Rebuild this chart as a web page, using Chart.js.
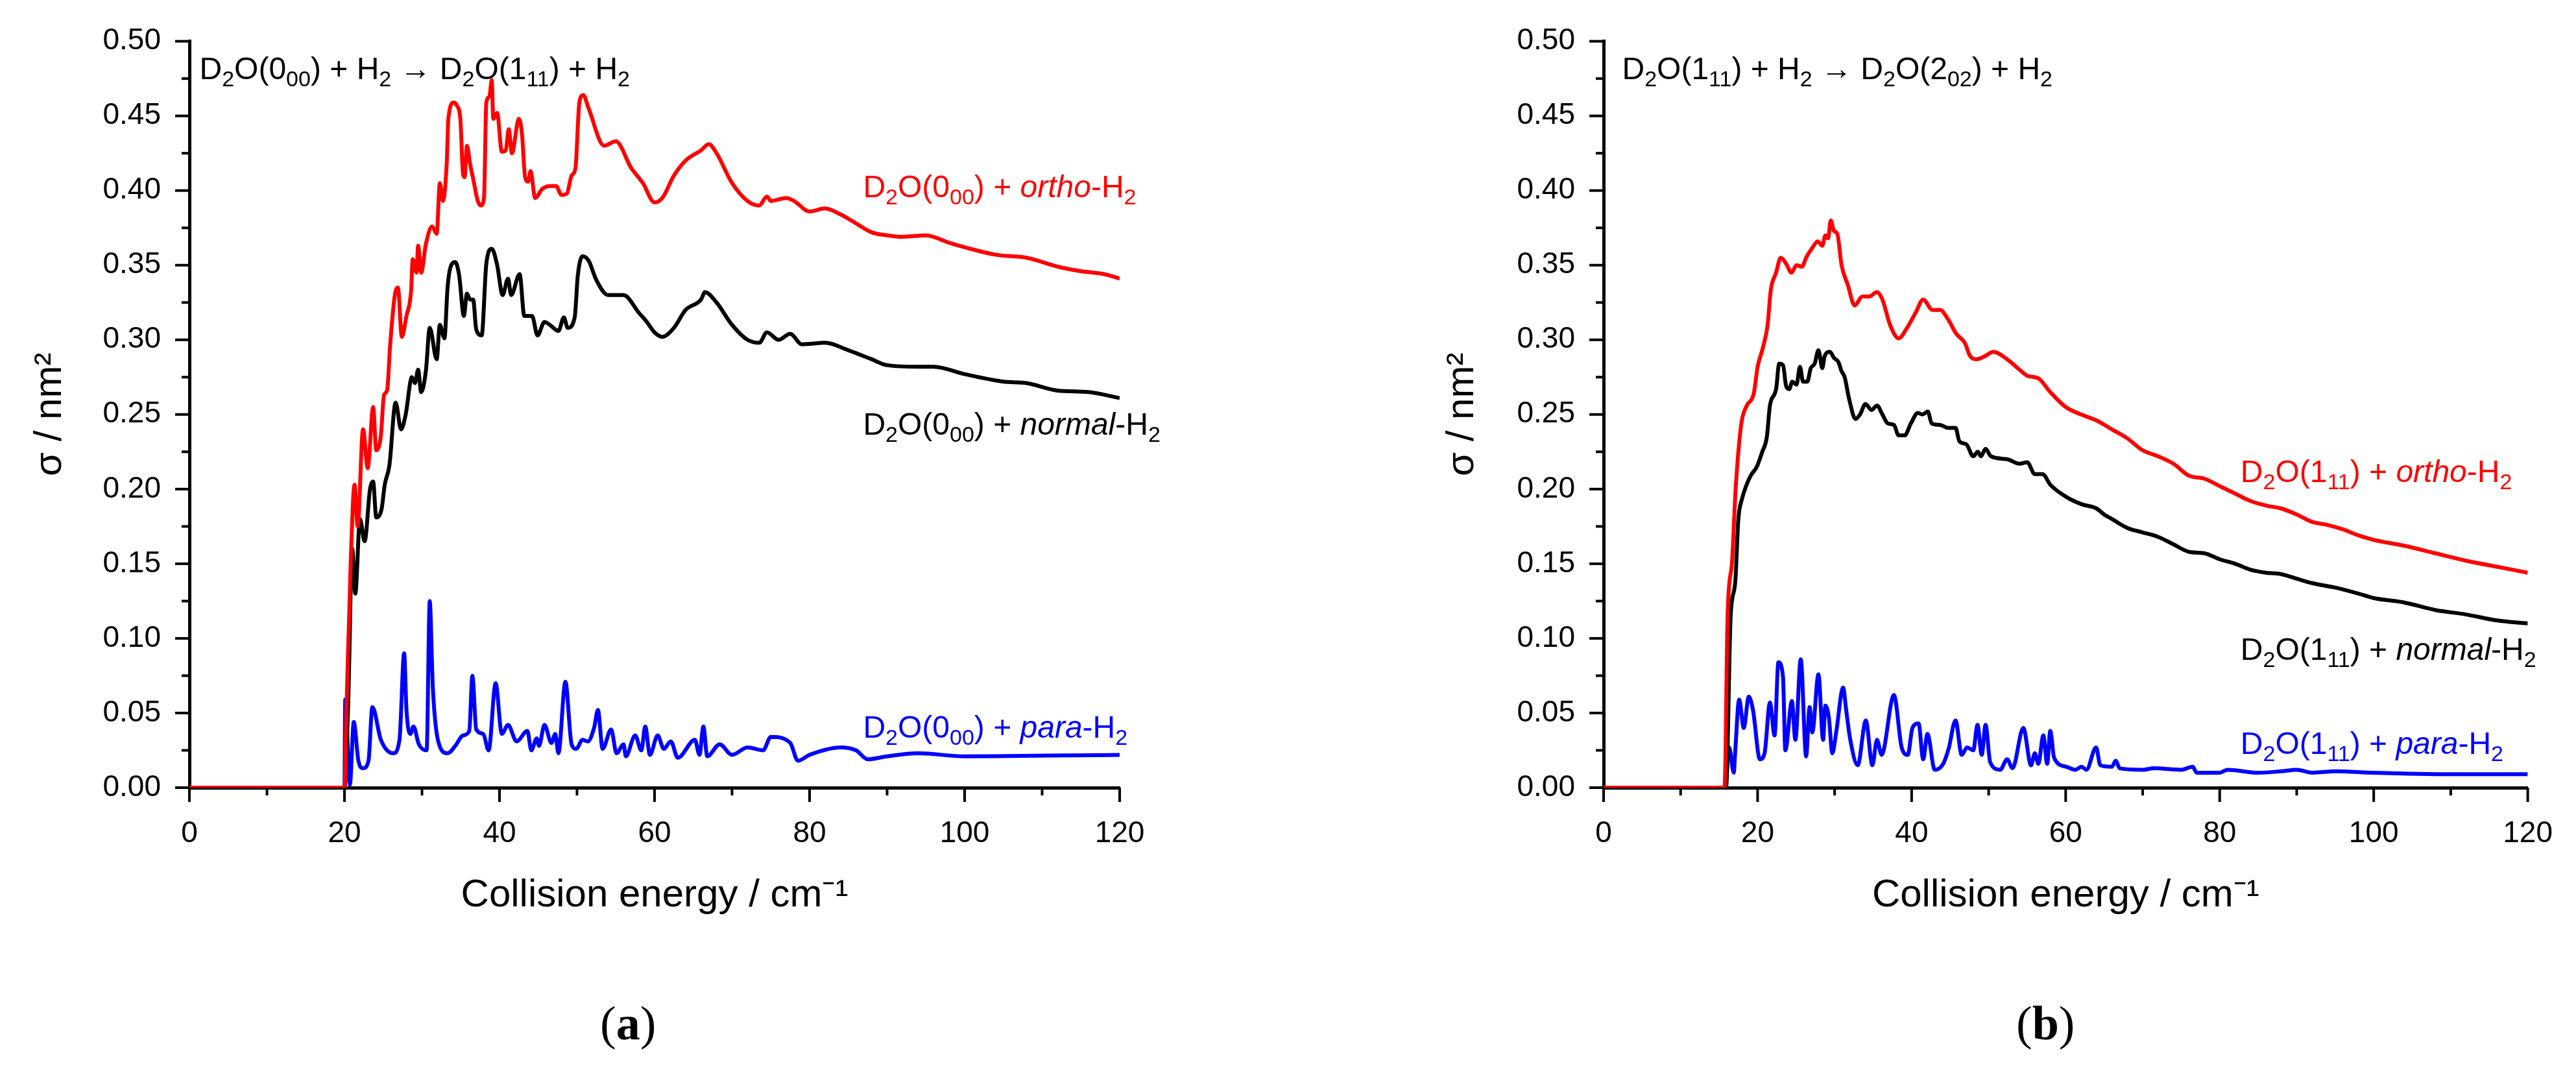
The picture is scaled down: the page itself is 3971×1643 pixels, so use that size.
<!DOCTYPE html>
<html>
<head>
<meta charset="utf-8">
<script src="https://cdn.jsdelivr.net/npm/chart.js@4.4.1/dist/chart.umd.min.js"></script>
<style>
  html, body { margin: 0; padding: 0; background: #fff; }
  body { width: 3971px; height: 1643px; position: relative; overflow: hidden; }
  .panel { position: absolute; top: 0; height: 1643px; }
  #wrapA { left: 0; width: 1990px; }
  #wrapB { left: 1990px; width: 1981px; }
  .tag { position: absolute; top: 1535px; font-family: "Liberation Serif", serif; font-size: 74px; }
  .tag b { font-weight: bold; }
</style>
</head>
<body>
<div class="panel" id="wrapA"><canvas id="chartA"></canvas></div>
<div class="panel" id="wrapB"><canvas id="chartB"></canvas></div>
<div class="tag" style="left:925px">(<b>a</b>)</div>
<div class="tag" style="left:3108px">(<b>b</b>)</div>
<script>
// ===== DATA: panel (a) D2O(000) -> D2O(111) =====
const aOrthoE = [0,20,20.3,20.8,21.3,21.7,22.4,23.0,23.7,24.1,
  24.7,25.1,25.5,25.9,26.5,26.9,27.4,28.0,28.6,28.8,
  29.3,29.5,29.9,30.5,31.3,31.9,32.3,32.7,33.2,33.4,
  34.1,34.5,34.95,35.3,35.5,35.8,36.2,36.6,37.2,37.6,
  38.0,38.3,38.7,39.0,39.2,39.7,40.3,40.8,41.2,41.6,
  42.5,42.9,43.3,43.7,44.0,44.6,45.5,46.6,47.3,48.0,
  48.7,49.3,49.8,50.3,50.8,51.5,53.5,55,57,58.5,
  60,61,62.5,64,66,67,68,70,72,73.5,
  74.5,75,77,78,80,82,84,86,88,90,
  92,95,98,100,104,108,112,115,118,120];
const aOrthoS = [0,0,0.06,0.15,0.203,0.175,0.240,0.214,0.255,0.226,
  0.236,0.263,0.266,0.297,0.330,0.335,0.302,0.316,0.333,0.354,
  0.345,0.363,0.345,0.364,0.376,0.371,0.405,0.393,0.419,0.448,
  0.459,0.457,0.448,0.411,0.409,0.430,0.418,0.408,0.393,0.390,
  0.395,0.459,0.463,0.474,0.448,0.452,0.426,0.427,0.441,0.425,
  0.448,0.438,0.409,0.406,0.413,0.395,0.401,0.403,0.403,0.397,
  0.398,0.410,0.415,0.459,0.464,0.455,0.430,0.433,0.415,0.405,
  0.392,0.395,0.41,0.42,0.427,0.431,0.425,0.405,0.393,0.39,
  0.396,0.393,0.395,0.393,0.386,0.388,0.384,0.378,0.372,0.370,
  0.369,0.370,0.365,0.362,0.357,0.355,0.349,0.346,0.344,0.341];

const aNormalE = [0,20,20.5,21.0,21.4,22.0,22.6,23.3,23.7,24.1,
  24.8,25.2,25.8,26.6,27.3,27.9,28.7,29.1,29.5,29.9,
  30.5,31.0,31.9,32.3,32.9,33.3,33.7,34.3,34.8,35.4,
  35.8,36.2,36.6,37.0,37.7,38.3,39.0,39.7,40.4,41.1,
  41.5,42.6,43.2,44.2,44.9,45.8,46.5,47.6,48.3,48.8,
  49.7,50.1,50.7,51.5,52.5,54,56,58,59,60,
  61,62.5,64,66,66.5,68,70,72,73.5,74.5,
  76,77.5,79,82,85,88,90,94,96,100,
  105,108,112,116,120];
const aNormalS = [0,0,0.06,0.16,0.13,0.18,0.165,0.200,0.205,0.181,
  0.187,0.203,0.216,0.258,0.240,0.250,0.275,0.271,0.280,0.265,
  0.279,0.308,0.287,0.310,0.301,0.335,0.349,0.352,0.343,0.316,
  0.331,0.327,0.327,0.307,0.303,0.351,0.361,0.350,0.330,0.341,
  0.330,0.344,0.316,0.316,0.303,0.312,0.310,0.306,0.315,0.308,
  0.315,0.343,0.356,0.353,0.34,0.33,0.33,0.318,0.312,0.305,
  0.302,0.308,0.32,0.327,0.332,0.325,0.31,0.30,0.298,0.305,
  0.300,0.304,0.297,0.298,0.293,0.287,0.283,0.282,0.282,0.277,
  0.272,0.271,0.266,0.265,0.261];

const aParaE = [0,20,20.1,20.7,21.2,21.8,22.4,23.1,23.6,24.7,
  26.3,27.1,27.7,28.0,28.5,28.9,29.6,30.6,31.0,31.4,
  32.1,33.3,34.3,35.3,36.1,36.5,37.0,37.9,38.6,39.5,
  40.3,41.1,42.2,43.6,44.1,44.8,45.1,45.8,46.7,47.2,
  47.6,48.5,49.3,49.9,50.7,51.4,52.2,52.7,53.3,54.4,
  55.1,56.0,56.3,57.5,58.3,58.8,59.4,60.4,61.2,62.1,
  63.0,65.2,65.8,66.3,66.8,68.4,70,72,74,75,
  77.5,78.5,80,84,86,87.5,90,94,100,120];
const aParaS = [0,0,0.059,0.002,0.044,0.018,0.013,0.018,0.054,0.032,
  0.023,0.032,0.090,0.052,0.036,0.041,0.029,0.025,0.125,0.067,
  0.031,0.023,0.028,0.035,0.038,0.075,0.039,0.036,0.025,0.070,
  0.036,0.042,0.031,0.038,0.025,0.033,0.028,0.042,0.030,0.036,
  0.023,0.071,0.029,0.026,0.032,0.031,0.040,0.052,0.026,0.039,
  0.023,0.029,0.021,0.035,0.025,0.041,0.022,0.035,0.026,0.031,
  0.020,0.032,0.022,0.041,0.021,0.029,0.022,0.027,0.025,0.034,
  0.030,0.018,0.022,0.027,0.025,0.019,0.021,0.023,0.021,0.022];

// ===== DATA: panel (b) D2O(111) -> D2O(202) =====
const bOrthoE = [0,15.7,16.1,16.7,17.1,17.5,17.95,18.6,19.5,20.0,
  20.7,21.3,21.7,22.4,23.0,23.7,24.4,25.05,25.75,26.3,
  27.15,27.8,28.4,28.8,29.15,29.5,29.9,30.35,30.9,31.7,
  32.6,33.6,34.5,35.5,36.2,37.2,38.3,39.4,40.5,41.5,
  42.7,43.7,44.7,45.8,46.9,47.6,48.4,49.5,50.6,52.4,
  54,55,56.5,58,60,62,64,66,68,70,
  72,74,76,78,80,82,84,86,88,90,
  92,94,96,98,100,104,108,112,116,120];
const bOrthoS = [0,0,0.115,0.153,0.196,0.225,0.246,0.256,0.264,0.282,
  0.295,0.310,0.333,0.345,0.355,0.351,0.345,0.350,0.349,0.355,
  0.362,0.366,0.363,0.370,0.368,0.380,0.373,0.371,0.350,0.337,
  0.323,0.329,0.329,0.332,0.327,0.310,0.301,0.308,0.318,0.327,
  0.320,0.320,0.314,0.304,0.298,0.289,0.287,0.289,0.292,0.287,
  0.28,0.276,0.274,0.265,0.255,0.25,0.246,0.24,0.234,0.226,
  0.222,0.217,0.209,0.207,0.202,0.197,0.192,0.189,0.187,0.183,
  0.178,0.176,0.173,0.169,0.166,0.162,0.157,0.152,0.148,0.144];

const bNormalE = [0,15.9,16.5,17.1,17.5,17.95,18.5,19.1,19.9,20.6,
  21.2,21.6,22.4,22.8,23.3,23.7,24.1,24.5,25.05,25.5,
  25.9,26.45,26.9,27.4,27.9,28.4,28.7,29.4,29.9,30.5,
  30.9,31.3,31.9,32.7,33.3,34.0,34.8,35.5,36.2,36.9,
  37.7,38.3,39.1,39.9,40.8,41.4,42.1,42.6,43.7,44.7,
  45.7,46.2,47.1,48.0,48.6,49.0,49.6,50.3,52.4,54,
  55,56,57,58,60,62,64,65,66,68,
  70,72,74,76,78,80,82,84,86,88,
  90,92,95,98,100,104,108,112,116,120];
const bNormalS = [0,0,0.115,0.138,0.180,0.193,0.202,0.209,0.215,0.225,
  0.235,0.256,0.267,0.284,0.283,0.269,0.267,0.272,0.270,0.282,
  0.272,0.272,0.281,0.284,0.293,0.281,0.289,0.292,0.288,0.285,
  0.279,0.275,0.260,0.247,0.250,0.257,0.253,0.256,0.250,0.244,
  0.243,0.236,0.236,0.244,0.251,0.250,0.252,0.244,0.243,0.241,
  0.241,0.232,0.230,0.222,0.225,0.222,0.227,0.222,0.220,0.217,
  0.218,0.21,0.21,0.203,0.195,0.19,0.187,0.183,0.18,0.174,
  0.171,0.168,0.163,0.158,0.157,0.153,0.150,0.146,0.144,0.143,
  0.140,0.137,0.134,0.130,0.127,0.124,0.119,0.116,0.112,0.110];

const bParaE = [0,15.8,16.3,16.9,17.1,17.6,18.2,18.85,19.4,20.3,
  20.9,21.6,22.2,22.7,23.3,23.6,24.45,24.9,25.6,26.3,
  26.75,27.1,27.9,28.5,28.8,29.25,29.7,30.2,31.1,31.5,
  32.0,33.0,34.05,34.9,35.5,36.1,37.7,38.7,39.5,40.1,
  40.9,41.5,42.05,43.0,44.1,44.8,45.7,46.5,47.2,48.0,
  48.55,49.1,49.6,50.2,51.5,52.4,53.1,54.5,55.5,56.0,
  56.45,57.1,57.6,58.0,58.5,60.1,61.25,62.05,62.7,63.95,
  64.5,66,66.5,67,70,71.5,75,76.5,77,80,
  81,85,88,90,92,95,100,110,120];
const bParaS = [0,0,0.027,0.010,0.025,0.059,0.040,0.061,0.052,0.019,
  0.023,0.057,0.035,0.084,0.074,0.025,0.058,0.032,0.086,0.021,
  0.054,0.037,0.076,0.032,0.055,0.047,0.023,0.037,0.067,0.052,
  0.033,0.015,0.045,0.015,0.032,0.022,0.062,0.027,0.022,0.040,
  0.043,0.019,0.036,0.012,0.016,0.026,0.045,0.022,0.027,0.025,
  0.042,0.022,0.042,0.017,0.012,0.019,0.013,0.040,0.015,0.023,
  0.016,0.035,0.016,0.038,0.020,0.014,0.012,0.014,0.012,0.027,
  0.015,0.014,0.018,0.013,0.012,0.013,0.012,0.014,0.010,0.010,
  0.012,0.010,0.011,0.012,0.010,0.011,0.010,0.009,0.009];

const xTickStep = 20;
const yTickStep = 0.05;
const xTitle = "Collision energy / cm\u207B\u00B9";
const yTitle = "\u03C3 / nm\u00B2";

// text segments: [text, kind] kind n=normal s=subscript i=italic
const titleA = [["D","n"],["2","s"],["O(0","n"],["00","s"],[") + H","n"],["2","s"],[" \u2192 D","n"],["2","s"],["O(1","n"],["11","s"],[") + H","n"],["2","s"]];
const titleB = [["D","n"],["2","s"],["O(1","n"],["11","s"],[") + H","n"],["2","s"],[" \u2192 D","n"],["2","s"],["O(2","n"],["02","s"],[") + H","n"],["2","s"]];
function seriesLabel(lvl, kind) {
  return [["D","n"],["2","s"],["O(" + lvl[0],"n"],[lvl.slice(1),"s"],[") + ","n"],[kind,"i"],["-H","n"],["2","s"]];
}

const FONT = '"Liberation Sans", Arial, sans-serif';

function drawRich(ctx, segs, x, y, color) {
  ctx.save();
  ctx.fillStyle = color;
  ctx.textBaseline = "alphabetic";
  ctx.textAlign = "left";
  segs.forEach(([t, k]) => {
    if (k === "s") {
      ctx.font = "34px " + FONT;
      ctx.fillText(t, x, y + 11);
    } else {
      ctx.font = (k === "i" ? "italic " : "") + "48px " + FONT;
      ctx.fillText(t, x, y);
    }
    x += ctx.measureText(t).width;
  });
  ctx.restore();
}

// ===== custom ticks, titles, labels =====
const decorPlugin = {
  id: "decor",
  afterDraw(chart) {
    const ctx = chart.ctx;
    const xs = chart.scales.x, ys = chart.scales.y;
    const ca = chart.chartArea;
    const o = chart.options.plugins.decor;
    ctx.save();
    ctx.strokeStyle = "#000";
    ctx.lineWidth = 4;
    for (let v = 0; v <= 120 + 1e-9; v += xTickStep / 2) {
      const px = xs.getPixelForValue(v);
      const major = Math.abs(v % xTickStep) < 1e-6;
      ctx.beginPath();
      ctx.moveTo(px, ca.bottom);
      ctx.lineTo(px, ca.bottom + (major ? 22 : 12));
      ctx.stroke();
    }
    for (let i = 0; i <= 20; i++) {
      const py = ys.getPixelForValue(i * yTickStep / 2);
      const major = i % 2 === 0;
      ctx.beginPath();
      ctx.moveTo(ca.left, py);
      ctx.lineTo(ca.left - (major ? 22 : 12), py);
      ctx.stroke();
    }
    // axis titles
    ctx.fillStyle = "#000";
    ctx.font = "60px " + FONT;
    ctx.textAlign = "center";
    ctx.textBaseline = "middle";
    ctx.fillText(xTitle, (ca.left + ca.right) / 2, 1380);
    ctx.save();
    ctx.translate(o.yTitleX, (ca.top + ca.bottom) / 2);
    ctx.rotate(-Math.PI / 2);
    ctx.fillText(yTitle, 0, 0);
    ctx.restore();
    ctx.restore();
    o.labels.forEach(l => {
      drawRich(ctx, l.segs, xs.getPixelForValue(l.x), ys.getPixelForValue(l.y) + 17, l.color);
    });
  }
};

function pts(E, S) { return E.map((e, i) => ({ x: e, y: S[i] })); }

function makeChart(id, w, rightPad, yWidth, yTitleX, sets, labels) {
  const cv = document.getElementById(id);
  cv.style.width = w + "px";
  cv.style.height = "1643px";
  return new Chart(cv.getContext("2d"), {
    type: "line",
    data: {
      datasets: sets.map(s => ({
        data: pts(s[0], s[1]),
        borderColor: s[2],
        borderWidth: 6,
        pointRadius: 0,
        cubicInterpolationMode: "monotone",
        fill: false
      }))
    },
    options: {
      responsive: false,
      animation: false,
      devicePixelRatio: 1,
      layout: { padding: { top: 59, right: rightPad, left: 0, bottom: 0 } },
      plugins: {
        legend: { display: false },
        tooltip: { enabled: false },
        decor: { yTitleX: yTitleX, labels: labels }
      },
      scales: {
        x: {
          type: "linear", min: 0, max: 120,
          ticks: { stepSize: xTickStep, padding: 36, color: "#000", font: { family: FONT, size: 46 } },
          grid: { display: false },
          border: { display: true, color: "#000", width: 5 },
          afterFit: s => { s.height = 1643 - 1214; }
        },
        y: {
          min: 0, max: 0.5,
          ticks: { stepSize: yTickStep, padding: 36, color: "#000", font: { family: FONT, size: 46 },
                   callback: v => v.toFixed(2) },
          grid: { display: false },
          border: { display: true, color: "#000", width: 5 },
          afterFit: s => { s.width = yWidth; }
        }
      }
    },
    plugins: [decorPlugin]
  });
}

function setSize(id, w) {
  const cv = document.getElementById(id);
  cv.width = w; cv.height = 1643;
}
setSize("chartA", 1990);
setSize("chartB", 1981);

makeChart("chartA", 1990, 1990 - 1726, 292, 77, [
  [aOrthoE, aOrthoS, "#ff0000"],
  [aNormalE, aNormalS, "#000000"],
  [aParaE, aParaS, "#0000ff"]
], [
  { segs: titleA, x: 1.3, y: 0.482, color: "#000" },
  { segs: seriesLabel("000", "ortho"), x: 86.9, y: 0.403, color: "#ff0000" },
  { segs: seriesLabel("000", "normal"), x: 86.9, y: 0.244, color: "#000" },
  { segs: seriesLabel("000", "para"), x: 86.9, y: 0.041, color: "#0000ff" }
]);

makeChart("chartB", 1981, 1981 - (3908 - 1990), 2472 - 1990, 2254 - 1990, [
  [bOrthoE, bOrthoS, "#ff0000"],
  [bNormalE, bNormalS, "#000000"],
  [bParaE, bParaS, "#0000ff"]
], [
  { segs: titleB, x: 2.4, y: 0.482, color: "#000" },
  { segs: seriesLabel("111", "ortho"), x: 82.7, y: 0.212, color: "#ff0000" },
  { segs: seriesLabel("111", "normal"), x: 82.7, y: 0.093, color: "#000" },
  { segs: seriesLabel("111", "para"), x: 82.7, y: 0.030, color: "#0000ff" }
]);
</script>
</body>
</html>
